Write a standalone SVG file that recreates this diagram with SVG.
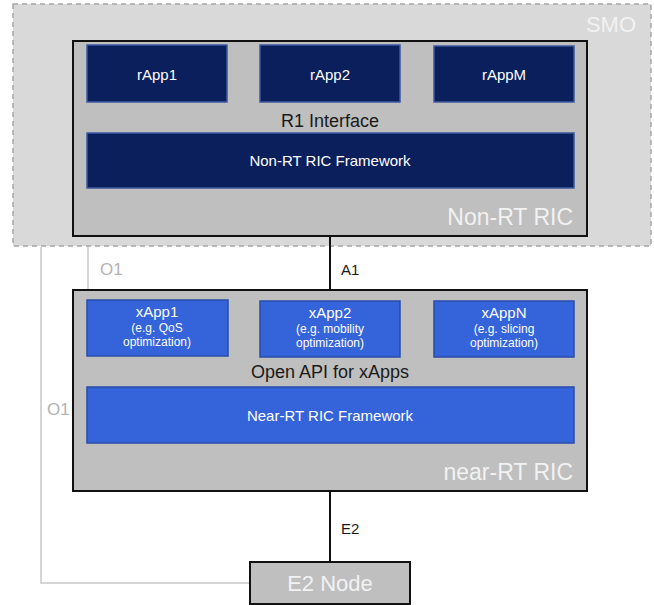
<svg xmlns="http://www.w3.org/2000/svg" width="654" height="605" viewBox="0 0 654 605">
<style>
text{font-family:"Liberation Sans",Arial,sans-serif}
.smo{fill:#d9d9d9;stroke:#a6a6a6;stroke-width:1.5;stroke-dasharray:5 4}
.ric{fill:#bfbfbf;stroke:#111;stroke-width:2}
.rapp{fill:#0b1f5c;stroke:#3c5a9c;stroke-width:1.5}
.xapp{fill:#3563d9;stroke:#2a4ca8;stroke-width:1.5}
.wt{fill:#ffffff;text-anchor:middle}
.big{fill:#f2f2f2;font-size:23px;text-anchor:end}
.bigc{fill:#f2f2f2;font-size:22px;text-anchor:middle}
.dk{fill:#1a1a1a}
.gl{fill:#b3b3b3}
.line{stroke:#111;stroke-width:2;fill:none}
.gline{stroke:#c8c8c8;stroke-width:1.5;fill:none}
</style>
<g id="smo">
<rect class="smo" x="13" y="4" width="638" height="242"/>
<text x="636" y="32" class="big" style="font-size:22px">SMO</text>
</g>
<g id="connectors">
<line class="line" x1="330" y1="236" x2="330" y2="290"/>
<line class="line" x1="330" y1="491" x2="330" y2="562"/>
<polyline class="gline" points="88,247 88,290"/>
<polyline class="gline" points="41,247 41,583 250,583"/>
<text x="100" y="275" class="gl" font-size="17">O1</text>
<text x="341" y="275" class="dk" font-size="15">A1</text>
<text x="47" y="415" class="gl" font-size="17">O1</text>
<text x="341" y="534" class="dk" font-size="15">E2</text>
</g>
<g id="non-rt-ric">
<rect class="ric" x="73" y="41" width="514" height="195"/>
<text x="573" y="225" class="big">Non-RT RIC</text>
<text x="330" y="127" class="dk" font-size="18" text-anchor="middle">R1 Interface</text>
</g>
<g id="rapp1"><rect class="rapp" x="87" y="45" width="140" height="57"/><text x="157" y="80" class="wt" font-size="15">rApp1</text></g>
<g id="rapp2"><rect class="rapp" x="260" y="45" width="140" height="57"/><text x="330" y="80" class="wt" font-size="15">rApp2</text></g>
<g id="rappm"><rect class="rapp" x="434" y="46" width="140" height="56"/><text x="504" y="80" class="wt" font-size="15">rAppM</text></g>
<g id="non-rt-framework"><rect class="rapp" x="87" y="133" width="487" height="55"/><text x="330" y="166" class="wt" font-size="15">Non-RT RIC Framework</text></g>
<g id="near-rt-ric">
<rect class="ric" x="73" y="290" width="514" height="201"/>
<text x="573" y="480" class="big">near-RT RIC</text>
<text x="330" y="378" class="dk" font-size="18" text-anchor="middle">Open API for xApps</text>
</g>
<g id="xapp1"><rect class="xapp" x="87" y="300" width="141" height="56"/>
<text x="157" y="317" class="wt" font-size="15">xApp1</text>
<text x="157" y="332" class="wt" font-size="12">(e.g. QoS</text>
<text x="157" y="346" class="wt" font-size="12">optimization)</text></g>
<g id="xapp2"><rect class="xapp" x="260" y="301" width="140" height="56"/>
<text x="330" y="318" class="wt" font-size="15">xApp2</text>
<text x="330" y="333" class="wt" font-size="12">(e.g. mobility</text>
<text x="330" y="347" class="wt" font-size="12">optimization)</text></g>
<g id="xappn"><rect class="xapp" x="434" y="301" width="140" height="56"/>
<text x="504" y="318" class="wt" font-size="15">xAppN</text>
<text x="504" y="333" class="wt" font-size="12">(e.g. slicing</text>
<text x="504" y="347" class="wt" font-size="12">optimization)</text></g>
<g id="near-rt-framework"><rect class="xapp" x="87" y="387" width="487" height="56"/><text x="330" y="421" class="wt" font-size="15">Near-RT RIC Framework</text></g>
<g id="e2-node"><rect class="ric" x="250" y="562" width="160" height="42"/><text x="330" y="591" class="bigc">E2 Node</text></g>
</svg>
